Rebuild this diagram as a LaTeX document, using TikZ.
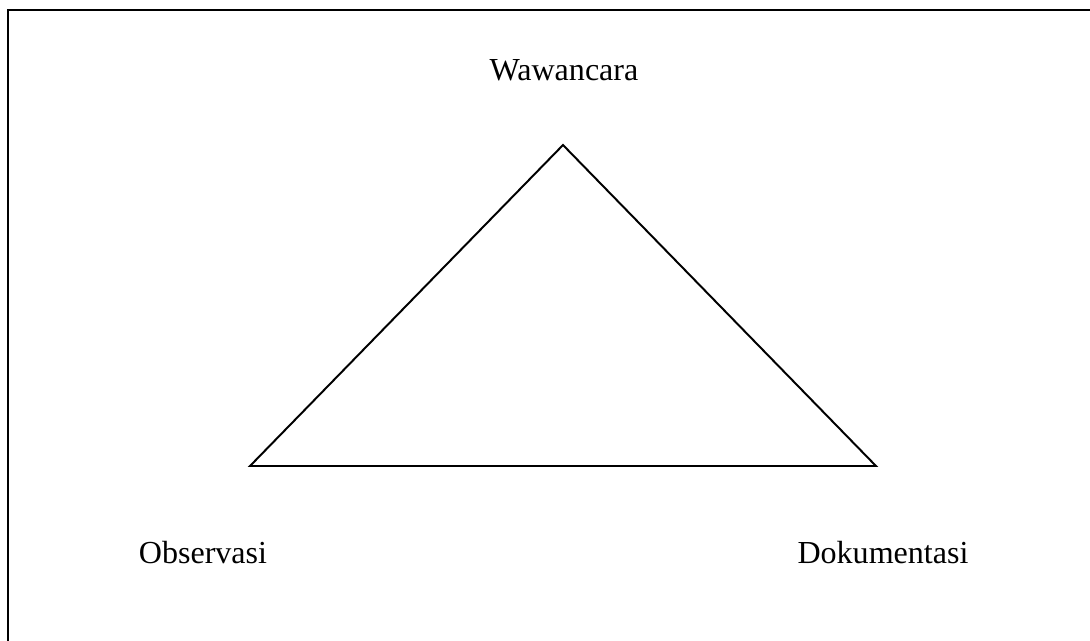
\documentclass[tikz,border=0pt]{standalone}
\usepackage{fontspec}
\setmainfont{Liberation Serif}
\usepackage{xcolor}

\begin{document}
\begin{tikzpicture}[
  x=0.025cm, y=-0.025cm,
  edge/.style  = {line width=1.4pt, line join=miter},
  frame/.style = {line width=1.8pt},
  lbl/.style   = {font=\fontsize{22.8}{27}\selectfont, inner sep=0pt}
]
\useasboundingbox (0,0) rectangle (1090,640);

%% ── Frame (left and top edges in view) ───────────────────────────────────
\draw[frame] (8,660) -- (8,10) -- (1110,10);

%% ── Corners ──────────────────────────────────────────────────────────────
\coordinate (top)   at (563,145);
\coordinate (left)  at (250,466);
\coordinate (right) at (876,466);

%% ── Labels ───────────────────────────────────────────────────────────────
\node[lbl] (ww)  at (564,70)  {Wawancara};
\node[lbl] (obs) at (203,553) {Observasi};
\node[lbl] (dok) at (883,553) {Dokumentasi};

%% ── Triangle ─────────────────────────────────────────────────────────────
\draw[edge] (top) -- (right) -- (left) -- cycle;

\end{tikzpicture}
\end{document}
